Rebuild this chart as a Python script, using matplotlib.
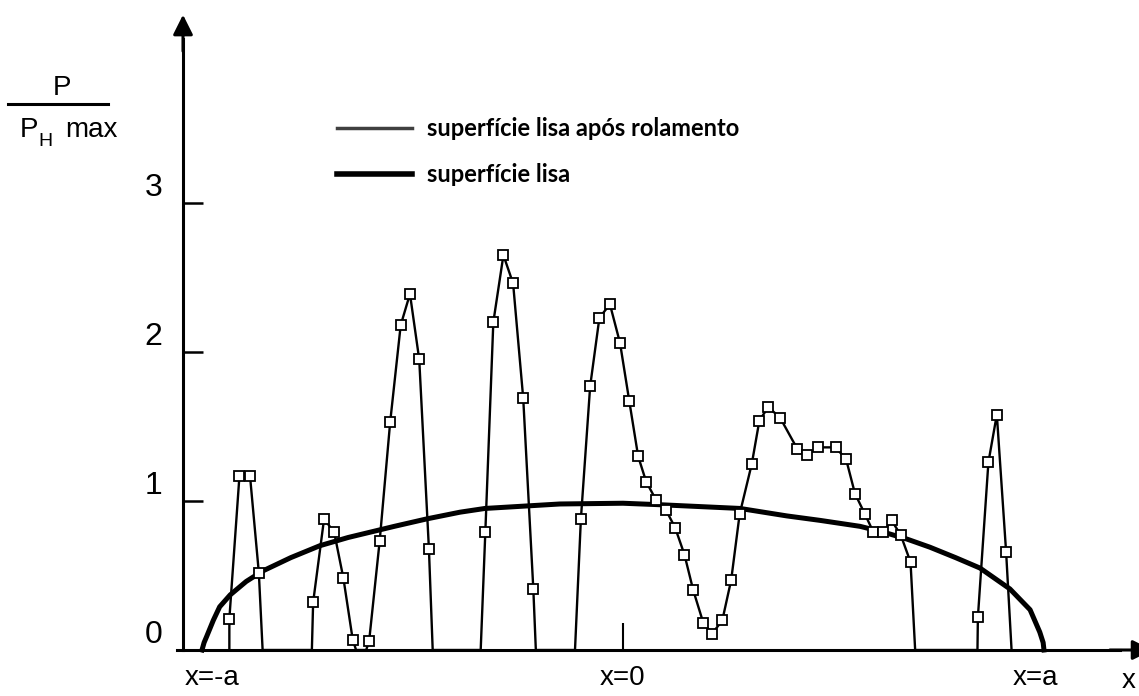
import matplotlib
matplotlib.use('Agg')
import matplotlib.pyplot as plt
from matplotlib.lines import Line2D

# ---------------------------------------------------------------
# dados (x em unidades de a, pressao em P / PH max)
# superficie lisa apos rolamento (1 = ponto com marcador)
x_rugosa = [-0.935, -0.935, -0.911, -0.886, -0.865, -0.856,
            -0.739, -0.736, -0.710, -0.686, -0.664, -0.642, -0.634,
            -0.610, -0.603, -0.578, -0.553, -0.528, -0.506, -0.484, -0.461, -0.452,
            -0.338, -0.327, -0.308, -0.284, -0.261, -0.237, -0.213, -0.207,
            -0.114, -0.100, -0.078, -0.056, -0.031, -0.007, 0.015, 0.036, 0.055,
            0.078, 0.102, 0.124, 0.146, 0.167, 0.191, 0.212, 0.236, 0.257, 0.277,
            0.306, 0.324, 0.345, 0.373, 0.414, 0.438, 0.464, 0.505, 0.530, 0.551,
            0.575, 0.595, 0.618, 0.638, 0.660, 0.683, 0.694,
            0.842, 0.843, 0.868, 0.888, 0.910, 0.923]
p_rugosa = [0.0, 0.21, 1.17, 1.17, 0.52, 0.0,
            0.0, 0.32, 0.88, 0.79, 0.48, 0.07, 0.0,
            0.0, 0.06, 0.73, 1.53, 2.18, 2.39, 1.95, 0.68, 0.0,
            0.0, 0.79, 2.20, 2.65, 2.46, 1.69, 0.41, 0.0,
            0.0, 0.88, 1.77, 2.23, 2.32, 2.06, 1.67, 1.30, 1.13,
            1.01, 0.94, 0.82, 0.64, 0.40, 0.18, 0.11, 0.20, 0.47, 0.91,
            1.25, 1.54, 1.63, 1.56, 1.35, 1.31, 1.36, 1.36, 1.28, 1.05,
            0.91, 0.79, 0.79, 0.87, 0.77, 0.59, 0.0,
            0.0, 0.22, 1.26, 1.58, 0.66, 0.0]
marcador = [0, 1, 1, 1, 1, 0,
            0, 1, 1, 1, 1, 1, 0,
            0, 1, 1, 1, 1, 1, 1, 1, 0,
            0, 1, 1, 1, 1, 1, 1, 0,
            0, 1, 1, 1, 1, 1, 1, 1, 1,
            1, 1, 1, 1, 1, 1, 1, 1, 1, 1,
            1, 1, 1, 1, 1, 1, 1, 1, 1, 1,
            1, 1, 1, 1, 1, 1, 0,
            0, 1, 1, 1, 1, 0]

# superficie lisa (Hertz)
x_lisa = [-1.0, -0.995, -0.989, -0.973, -0.958, -0.933, -0.895, -0.856, -0.789,
          -0.720, -0.653, -0.587, -0.543, -0.466, -0.387, -0.328, -0.150, 0.0,
          0.088, 0.278, 0.389, 0.468, 0.563, 0.620, 0.674, 0.729, 0.790, 0.848,
          0.919, 0.967, 0.990, 0.998, 1.0]
p_lisa = [0.0, 0.05, 0.09, 0.20, 0.29, 0.37, 0.46, 0.53, 0.62,
          0.70, 0.755, 0.80, 0.83, 0.88, 0.925, 0.95, 0.98, 0.985,
          0.975, 0.95, 0.90, 0.87, 0.83, 0.79, 0.745, 0.69, 0.62, 0.55,
          0.41, 0.27, 0.12, 0.05, 0.0]

ticks_y = [0, 1, 2, 3]
ticks_x = [-0.975, 0, 0.98]
rotulos_x = ['x=-a', 'x=0', 'x=a']
legenda = ['superfície lisa após rolamento', 'superfície lisa']

fonte = ['DejaVu Sans Condensed', 'Liberation Sans Narrow', 'Liberation Sans', 'DejaVu Sans']
plt.rcParams['font.family'] = fonte

W, H = 1139, 696
fig = plt.figure(figsize=(W / 100, H / 100), dpi=100)
ax = fig.add_axes([0, 0, 1, 1])
ax.set_xlim(-1.4798, 1.2257)
ax.set_ylim(-0.3087, 4.3624)

# curvas
ax.plot(x_lisa, p_lisa, color='black', lw=3.6, zorder=3)
pontos = [i for i, m in enumerate(marcador) if m]
ax.plot(x_rugosa, p_rugosa, color='black', lw=1.7, marker='s', ms=7,
        mfc='white', mec='black', mew=1.3, markevery=pontos, zorder=4)

# eixos com setas
x_eixo_y = -1.0451
for s in ['top', 'right']:
    ax.spines[s].set_visible(False)
ax.spines['left'].set_position(('data', x_eixo_y))
ax.spines['bottom'].set_position(('data', 0))
ax.spines['left'].set_bounds(0, 4.1)
ax.spines['bottom'].set_bounds(-1.06, 1.18)
ax.spines['left'].set_linewidth(2.2)
ax.spines['bottom'].set_linewidth(2.2)
ax.annotate('', xy=(x_eixo_y, 4.282), xytext=(x_eixo_y, 4.0),
            arrowprops=dict(arrowstyle='-|>', color='black', lw=2.2, mutation_scale=30),
            annotation_clip=False)
ax.annotate('', xy=(1.264, 0), xytext=(1.15, 0),
            arrowprops=dict(arrowstyle='-|>', color='black', lw=2.2, mutation_scale=30),
            annotation_clip=False)

# ticks
ax.set_yticks(ticks_y)
ax.set_yticklabels([str(t) for t in ticks_y])
ax.tick_params(axis='y', direction='in', length=14.4, width=1.8, pad=15, labelsize=23)
for lbl in ax.get_yticklabels():
    lbl.set_va('bottom')
ax.set_xticks(ticks_x)
ax.set_xticklabels(rotulos_x)
ax.tick_params(axis='x', direction='in', length=19.4, width=1.5, pad=11, labelsize=20)
tk = ax.xaxis.get_major_ticks()
tk[0].tick1line.set_visible(False)
tk[2].tick1line.set_visible(False)

# rotulo do eixo y (fracao)
fig.text(62 / W, 1 - 95 / H, 'P', ha='center', va='baseline', fontsize=20)
fig.add_artist(Line2D([8 / W, 108 / W], [1 - 104 / H, 1 - 104 / H],
                      transform=fig.transFigure, color='black', lw=2.2))
fig.text(20 / W, 1 - 137 / H, 'P', ha='left', va='baseline', fontsize=20)
fig.text(38 / W, 1 - 146 / H, 'H', ha='left', va='baseline', fontsize=14)
fig.text(65 / W, 1 - 137 / H, 'max', ha='left', va='baseline', fontsize=20)
fig.text(1122 / W, 1 - 688 / H, 'x', ha='left', va='baseline', fontsize=20)

# legenda
alcas = [Line2D([], [], color='#404040', lw=2.5), Line2D([], [], color='black', lw=4)]
ax.legend(alcas, legenda, loc='upper left', bbox_to_anchor=(316 / W, 1 - 96 / H),
          bbox_transform=fig.transFigure, frameon=False,
          prop={'family': 'Lato', 'weight': 'bold', 'size': 17},
          handlelength=3.18, handletextpad=0.64, labelspacing=0.97, borderpad=0.4)

fig.savefig('out.png', dpi=100)
